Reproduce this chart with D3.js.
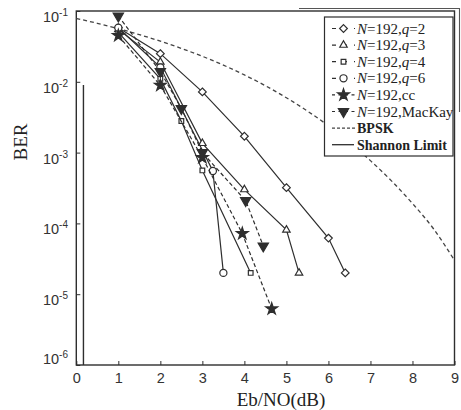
<!DOCTYPE html>
<html>
<head>
<meta charset="utf-8">
<script src="https://cdn.jsdelivr.net/npm/d3@7"></script>
<style>
  html, body { margin: 0; padding: 0; background: #fff; }
  svg { display: block; }
</style>
</head>
<body>
<svg id="chart" width="461" height="410"></svg>
<script>
// Axis ticks
const xTicks = [0, 1, 2, 3, 4, 5, 6, 7, 8, 9];
const yTicks = [1e-1, 1e-2, 1e-3, 1e-4, 1e-5, 1e-6];
const yTickExp = ["-1", "-2", "-3", "-4", "-5", "-6"];

// BER curves (Eb/N0 in dB, BER)
const q2X = [1, 2, 3, 4, 5, 6, 6.4];
const q2Y = [0.058, 0.025, 0.0072, 1.7e-3, 3.2e-4, 6.2e-5, 2e-5];
const q3X = [1, 2, 3, 4, 5, 5.3];
const q3Y = [0.055, 0.019, 1.35e-3, 3e-4, 8.1e-5, 2e-5];
const q4X = [1, 2, 2.5, 3, 4.15];
const q4Y = [0.05, 0.011, 2.8e-3, 5.6e-4, 2e-5];
const q6X = [1, 2, 3.25, 3.5];
const q6Y = [0.058, 0.016, 5.5e-4, 2e-5];
const ccX = [1, 2, 3, 3.95, 4.65];
const ccY = [0.045, 0.0089, 8.5e-4, 7.2e-5, 6.2e-6];
const mkX = [1, 2, 2.5, 3, 4.03, 4.45];
const mkY = [0.085, 0.014, 4.2e-3, 1.0e-3, 2.1e-4, 4.8e-5];
const bpskX = [0, 0.5, 1, 1.5, 2, 2.5, 3, 3.5, 4, 4.5, 5, 5.5, 6, 6.5, 7, 7.5, 8, 8.5, 9];
const bpskY = [0.0786, 0.0671, 0.0563, 0.0464, 0.0375, 0.0296, 0.0229, 0.0172, 0.0125,
               0.0088, 0.00595, 0.00386, 0.00239, 0.0014, 7.7e-4, 3.99e-4, 1.91e-4, 8.4e-5, 3.0e-5];
const shannonX = [0.17, 0.17];
const shannonY = [9e-3, 1e-6];

const legendLabels = [
  ["N", "=192,", "q", "=2"],
  ["N", "=192,", "q", "=3"],
  ["N", "=192,", "q", "=4"],
  ["N", "=192,", "q", "=6"],
  ["N", "=192,cc"],
  ["N", "=192,MacKay"],
  ["BPSK"],
  ["Shannon Limit"]
];

const ink = "#2e2e2e";
const svg = d3.select("#chart");

const x = d3.scaleLinear().domain([0, 9]).range([76.3, 454.5]);
const y = d3.scaleLog().domain([1e-6, 1e-1]).range([365, 11]);

// Marker shapes
const sym = {
  diamond: d3.symbol().type(d3.symbolDiamond2).size(38),
  triangle: d3.symbol().type(d3.symbolTriangle).size(24),
  square: d3.symbol().type(d3.symbolSquare2).size(28),
  circle: d3.symbol().type(d3.symbolCircle).size(40),
  star: d3.symbol().type(d3.symbolStar).size(44),
  down: d3.symbol().type(d3.symbolTriangle).size(46)
};

const series = [
  { xs: q2X, ys: q2Y, shape: "diamond", fill: "#fff", dash: null },
  { xs: q3X, ys: q3Y, shape: "triangle", fill: "#fff", dash: null },
  { xs: q4X, ys: q4Y, shape: "square", fill: "#fff", dash: null },
  { xs: q6X, ys: q6Y, shape: "circle", fill: "#fff", dash: null },
  { xs: ccX, ys: ccY, shape: "star", fill: ink, dash: "4,2.5" },
  { xs: mkX, ys: mkY, shape: "down", fill: ink, dash: "4,2.5" }
];

// Frame
svg.append("rect")
  .attr("x", x(0)).attr("y", y(1e-1))
  .attr("width", x(9) - x(0)).attr("height", y(1e-6) - y(1e-1))
  .attr("fill", "none").attr("stroke", ink).attr("stroke-width", 1.4);
// outer border line of the figure at the top right
svg.append("path")
  .attr("d", `M${x(5.3)},8.5 H459.5 V112`)
  .attr("fill", "none").attr("stroke", "#555").attr("stroke-width", 1.1);

// X axis
const xAxis = d3.axisBottom(x).tickValues(xTicks).tickSizeInner(-4).tickSizeOuter(0).tickPadding(8);
const gx = svg.append("g").attr("transform", `translate(0,${y(1e-6)})`).call(xAxis);
gx.select(".domain").remove();
gx.selectAll("line").attr("stroke", ink);
gx.selectAll("text")
  .attr("fill", "#333").attr("font-family", "Liberation Sans, Arial, sans-serif")
  .attr("font-size", 14.5);

// Y axis ticks
const yAxis = d3.axisLeft(y).tickValues(yTicks).tickSizeInner(-4).tickSizeOuter(0).tickFormat("");
const gy = svg.append("g").attr("transform", `translate(${x(0)},0)`).call(yAxis);
gy.select(".domain").remove();
gy.selectAll("line").attr("stroke", ink);

// Y tick labels as 10 with superscript exponent
yTicks.forEach((v, i) => {
  const cy = Math.min(y(v) + 6, y.range()[0] - 6);
  const t = svg.append("text")
    .attr("x", 68).attr("y", cy + 5)
    .attr("text-anchor", "end")
    .attr("fill", "#333")
    .attr("font-family", "Liberation Sans, Arial, sans-serif")
    .attr("font-size", 14.5);
  t.append("tspan").text("10");
  t.append("tspan").attr("font-size", 10).attr("dy", -6).text(yTickExp[i]);
});

// Axis titles
svg.append("text")
  .attr("x", 281).attr("y", 406)
  .attr("text-anchor", "middle")
  .attr("fill", "#222")
  .attr("font-family", "Liberation Serif, Times New Roman, serif")
  .attr("font-size", 19)
  .text("Eb/NO(dB)");
svg.append("text")
  .attr("transform", "translate(27,142) rotate(-90)")
  .attr("text-anchor", "middle")
  .attr("fill", "#222")
  .attr("font-family", "Liberation Serif, Times New Roman, serif")
  .attr("font-size", 19)
  .text("BER");

const line = d3.line().x(d => x(d[0])).y(d => y(d[1]));
const smooth = d3.line().x(d => x(d[0])).y(d => y(d[1])).curve(d3.curveMonotoneX);

// BPSK reference curve
svg.append("path")
  .attr("d", smooth(d3.zip(bpskX, bpskY)))
  .attr("fill", "none").attr("stroke", "#444").attr("stroke-width", 1.3)
  .attr("stroke-dasharray", "4,3");

// Shannon limit
svg.append("path")
  .attr("d", line(d3.zip(shannonX, shannonY)))
  .attr("fill", "none").attr("stroke", ink).attr("stroke-width", 1.4);

// Code curves
function markerTransform(shape, px, py) {
  return shape === "down" ? `translate(${px},${py}) rotate(180)` : `translate(${px},${py})`;
}
series.forEach(s => {
  const pts = d3.zip(s.xs, s.ys);
  svg.append("path")
    .attr("d", line(pts))
    .attr("fill", "none").attr("stroke", ink).attr("stroke-width", 1.2)
    .attr("stroke-dasharray", s.dash);
  svg.append("g").selectAll("path").data(pts).join("path")
    .attr("d", sym[s.shape]())
    .attr("transform", d => markerTransform(s.shape, x(d[0]), y(d[1])))
    .attr("fill", s.fill).attr("stroke", ink).attr("stroke-width", 1.2);
});

// Legend
const lg = svg.append("g");
lg.append("rect")
  .attr("x", 324.5).attr("y", 17).attr("width", 128.5).attr("height", 139)
  .attr("fill", "#fff").attr("stroke", ink).attr("stroke-width", 1.2);
const rowY = i => 28.5 + i * 16.6;
legendLabels.forEach((parts, i) => {
  const cy = rowY(i);
  if (i < series.length) {
    const s = series[i];
    lg.append("line")
      .attr("x1", 332).attr("x2", 355).attr("y1", cy).attr("y2", cy)
      .attr("stroke", ink).attr("stroke-width", 1.2)
      .attr("stroke-dasharray", s.dash ? "3,3.5" : "4,7");
    lg.append("path")
      .attr("d", sym[s.shape]())
      .attr("transform", markerTransform(s.shape, 343.5, cy))
      .attr("fill", s.fill).attr("stroke", ink).attr("stroke-width", 1.2);
  } else if (i === 6) {
    lg.append("line")
      .attr("x1", 332).attr("x2", 355).attr("y1", cy).attr("y2", cy)
      .attr("stroke", "#444").attr("stroke-width", 1.3).attr("stroke-dasharray", "3,2");
  } else {
    lg.append("line")
      .attr("x1", 332).attr("x2", 354).attr("y1", cy).attr("y2", cy)
      .attr("stroke", ink).attr("stroke-width", 1.3);
  }
  const t = lg.append("text")
    .attr("x", 357).attr("y", cy + 5)
    .attr("fill", "#222")
    .attr("font-family", "Liberation Serif, Times New Roman, serif")
    .attr("font-size", i >= 6 ? 14 : 15)
    .attr("font-weight", i >= 6 ? "bold" : null);
  parts.forEach(p => {
    t.append("tspan").attr("font-style", (p === "N" || p === "q") ? "italic" : null).text(p);
  });
});
</script>
</body>
</html>
